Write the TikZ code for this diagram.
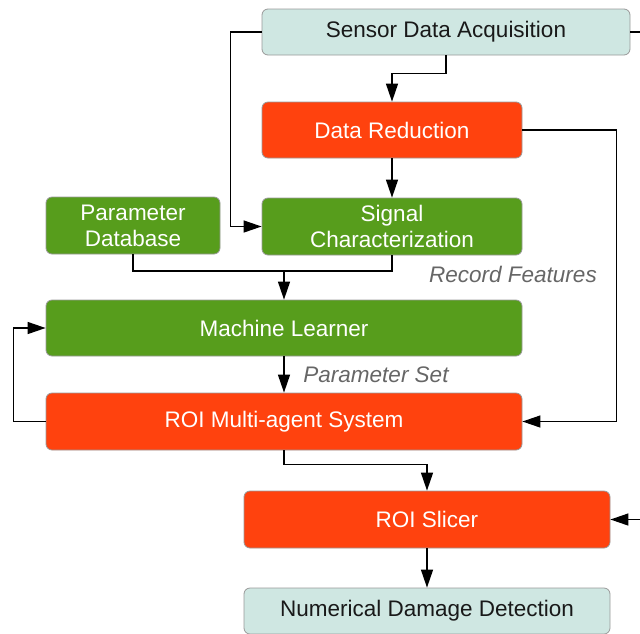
\documentclass[tikz,border=0pt]{standalone}
\usepackage{fontspec}
\setmainfont{Liberation Sans}
\usetikzlibrary{arrows.meta}

\definecolor{paleteal}{HTML}{CFE7E2}
\definecolor{redorange}{HTML}{FF420E}
\definecolor{leafgreen}{HTML}{579D1C}
\definecolor{labelgray}{HTML}{666666}

\tikzset{
	box/.style={draw=gray!80,rounded corners=6pt,line width=0.8pt,align=center,inner sep=0pt,
		font=\fontsize{22.5}{26}\selectfont},
	inbox/.style={box,fill=paleteal,text=black!90},
	redbox/.style={box,fill=redorange,text=white},
	greenbox/.style={box,fill=leafgreen,text=white},
	link/.style={line width=1.3pt},
	flow/.style={link,-{Triangle[length=18pt,width=12pt]}},
	note/.style={text=labelgray,font=\itshape\fontsize{22.5}{26}\selectfont}
}

\begin{document}
\begin{tikzpicture}[x=1pt,y=-1pt]
		
		% Frame (the drawing runs past the right edge)
		\useasboundingbox (0,0) rectangle (640,633);
		\clip (0,0) rectangle (640,633);
		
		% Blocks
		\node[inbox,minimum width=368pt,minimum height=46pt] (sensor) at (446,32) {Sensor Data Acquisition};
		\node[redbox,minimum width=260pt,minimum height=56pt] (reduce) at (392,130) {Data Reduction};
		\node[greenbox,minimum width=174pt,minimum height=57pt] (paramdb) at (133,225.5) {Parameter\\Database};
		\node[greenbox,minimum width=260pt,minimum height=57pt] (signal) at (392,226.5) {Signal\\Characterization};
		\node[greenbox,minimum width=476pt,minimum height=56pt] (learner) at (284,328) {Machine Learner};
		\node[redbox,minimum width=476pt,minimum height=57pt] (roimas) at (284,421.5) {ROI Multi-agent System};
		\node[redbox,minimum width=366pt,minimum height=57pt] (slicer) at (427,519.5) {ROI Slicer};
		\node[inbox,minimum width=366pt,minimum height=46pt] (damage) at (427,611) {Numerical Damage Detection};
		
		% Labels on the links
		\node[note] (features) at (513,274) {Record Features};
		\node[note] (paramset) at (376,375) {Parameter Set};
		
		% Sensor data goes down and to the left
		\draw[flow] (sensor.south) -- ++(0,18) -| (reduce.north);
		\draw[flow] (sensor.west) -- ++(-31,0) |- (signal.west);
		\coordinate (sensorout) at (655,32);
		\draw[link] (sensor.east) -- (sensorout);
		
		% Data reduction feeds the characterization and the agents
		\draw[flow] (reduce.south) -- (signal.north);
		\draw[flow] (reduce.east) -- ++(94,0) |- (roimas.east);
		
		% Both green blocks join into the learner
		\coordinate (merge) at (284,271);
		\draw[link] (paramdb.south) |- (merge);
		\draw[link] (signal.south) |- (merge);
		\draw[flow] (merge) -- (learner.north);
		
		% Learner and agents loop
		\draw[flow] (learner.south) -- (roimas.north);
		\draw[flow] (roimas.west) -- ++(-32,0) |- (learner.west);
		
		% Slicing and detection
		\draw[flow] (roimas.south) -- ++(0,14) -| (slicer.north);
		\coordinate (slicerin) at (655,519.5);
		\draw[flow] (slicerin) -- (slicer.east);
		\draw[flow] (slicer.south) -- (damage.north);
		
	\end{tikzpicture}
\end{document}
